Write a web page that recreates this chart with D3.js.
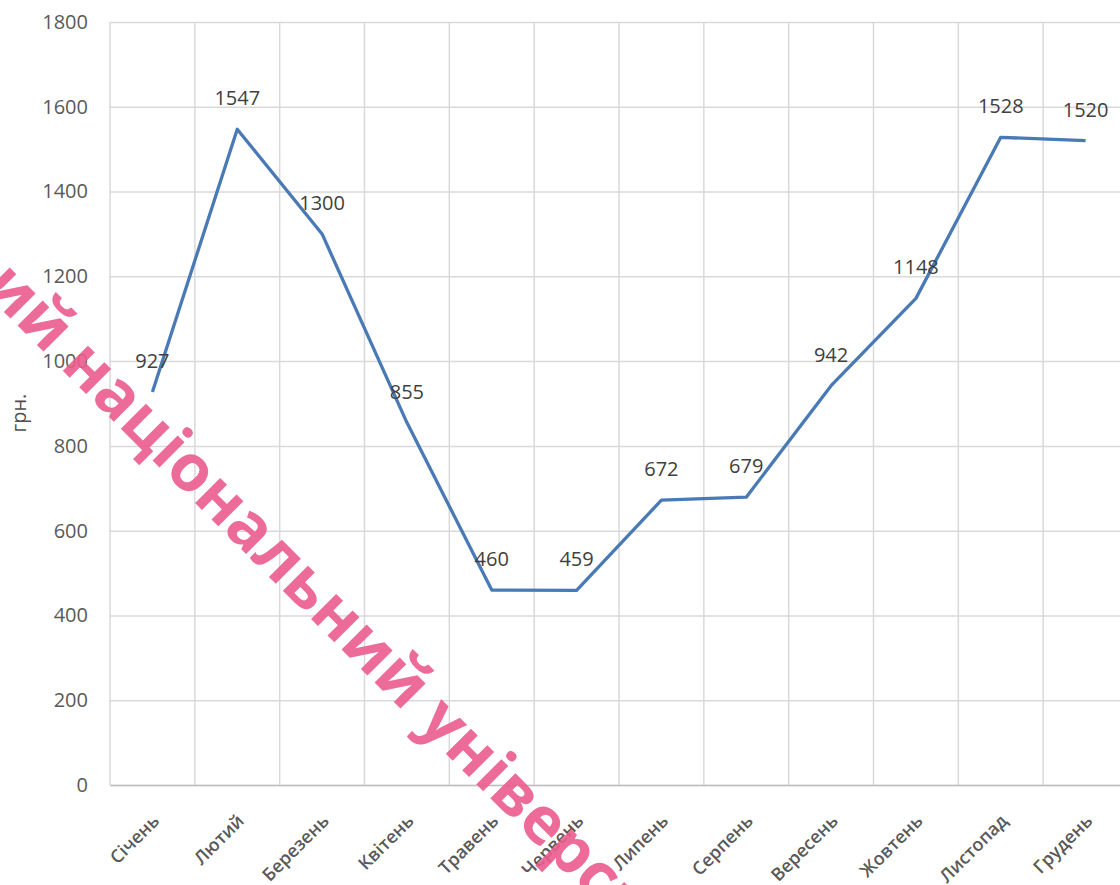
<!DOCTYPE html>
<html>
<head>
<meta charset="utf-8">
<script src="https://cdn.jsdelivr.net/npm/d3@7"></script>
<style>
  body { margin: 0; background: #fff; }
  svg { display: block; font-family: "Open Sans", sans-serif; }
</style>
</head>
<body>
<svg></svg>
<script>
let width = 1120;
let height = 885;

let months = ["Січень", "Лютий", "Березень", "Квітень", "Травень", "Червень",
    "Липень", "Серпень", "Вересень", "Жовтень", "Листопад", "Грудень"];
let values = [927, 1547, 1300, 855, 460, 459, 672, 679, 942, 1148, 1528, 1520];
let yTicks = [0, 200, 400, 600, 800, 1000, 1200, 1400, 1600, 1800];

let plotLeft = 110, plotTop = 22, plotBottom = 785, plotRight = 1128;

let xScale = d3.scaleBand()
    .domain(months)
    .range([plotLeft, plotRight]);

let yScale = d3.scaleLinear()
    .domain([0, 1800])
    .range([plotBottom, plotTop]);

let svg = d3.select("svg")
    .attr("width", width)
    .attr("height", height);

// horizontal grid
let yAxis = d3.axisLeft(yScale)
    .tickValues(yTicks)
    .tickFormat(d3.format("d"))
    .tickSize(-(plotRight - plotLeft))
    .tickPadding(22);

let gy = svg.append("g")
    .attr("transform", "translate(" + plotLeft + ",0)")
    .call(yAxis);
gy.select(".domain").remove();
gy.selectAll(".tick line").attr("stroke", "#d9d9d9").attr("stroke-width", 1.5);
gy.selectAll(".tick text")
    .attr("fill", "#595959")
    .style("font-size", "20px")
    .style("font-family", "Open Sans, sans-serif");

// vertical grid at category boundaries
let bounds = months.map(m => xScale(m)).concat([xScale(months[months.length - 1]) + xScale.bandwidth()]);
svg.append("g").selectAll("line")
    .data(bounds)
    .enter()
    .append("line")
    .attr("x1", d => d).attr("x2", d => d)
    .attr("y1", plotTop).attr("y2", plotBottom)
    .attr("stroke", "#d9d9d9")
    .attr("stroke-width", 1.5);

// x axis
let xAxis = d3.axisBottom(xScale).tickSize(0).tickSizeOuter(0);
let gx = svg.append("g")
    .attr("transform", "translate(0," + plotBottom + ")")
    .call(xAxis);
gx.select(".domain").attr("stroke", "#bfbfbf").attr("stroke-width", 1.5);
gx.selectAll(".tick text")
    .attr("fill", "#595959")
    .attr("text-anchor", "end")
    .attr("x", 0).attr("y", 0).attr("dy", 0)
    .attr("transform", "translate(8,37) rotate(-45)")
    .style("font-size", "18px")
    .style("font-weight", "600")
    .style("font-family", "Open Sans, sans-serif");

// y axis title
svg.append("text")
    .attr("transform", "translate(26,413) rotate(-90)")
    .attr("text-anchor", "middle")
    .attr("fill", "#505050")
    .style("font-size", "20px")
    .text("грн.");

// line
let line = d3.line()
    .x((d, i) => xScale(months[i]) + xScale.bandwidth() / 2)
    .y(d => yScale(d));

svg.append("path")
    .datum(values)
    .attr("fill", "none")
    .attr("stroke", "#4a7ab5")
    .attr("stroke-width", 3.3)
    .attr("stroke-linejoin", "round")
    .attr("d", line);

// data labels
svg.append("g").selectAll("text")
    .data(values)
    .enter()
    .append("text")
    .attr("x", (d, i) => xScale(months[i]) + xScale.bandwidth() / 2)
    .attr("y", d => yScale(d) - 24)
    .attr("text-anchor", "middle")
    .attr("fill", "#404040")
    .style("font-size", "20px")
    .text(d => d);

// watermark
svg.append("text")
    .attr("transform", "translate(-19,289) rotate(45)")
    .attr("fill", "#ec5c8d")
    .attr("opacity", 0.9)
    .style("font-size", "65px")
    .style("font-weight", "700")
    .text("ий національний університет");
</script>
</body>
</html>
